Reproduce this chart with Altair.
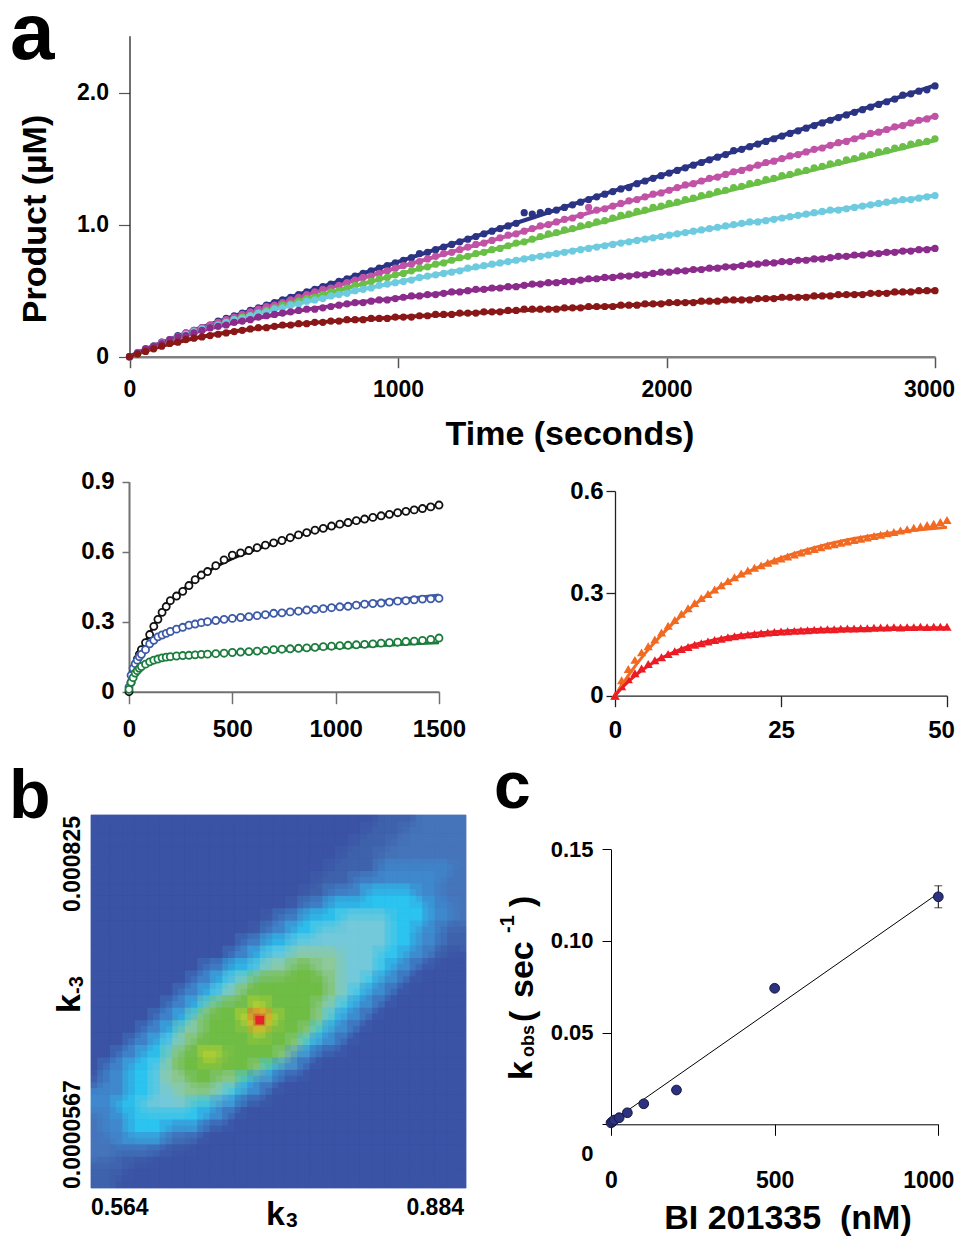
import altair as alt
import pandas as pd

W, H = 947, 1230
FONT = "Liberation Sans, Arial, Helvetica, sans-serif"

# ======================= DATA =======================
# ---- panel a (top): product (uM) vs time (s) ----
a_names = ["s1", "s2", "s3", "s4", "s5", "s6"]
a_colors = ["#2b3384", "#c153a6", "#6abf46", "#6ecbdf", "#8b2b8c", "#8a1717"]
a_dot_t = list(range(0, 3001, 30))
a_dot_s1 = [0.00, 0.03, 0.06, 0.08, 0.11, 0.13, 0.16, 0.18, 0.20, 0.22,
            0.24, 0.27, 0.29, 0.31, 0.33, 0.35, 0.37, 0.39, 0.41, 0.43,
            0.45, 0.47, 0.49, 0.51, 0.53, 0.55, 0.57, 0.59, 0.61, 0.63,
            0.65, 0.67, 0.69, 0.71, 0.73, 0.75, 0.78, 0.79, 0.81, 0.83,
            0.85, 0.87, 0.89, 0.91, 0.93, 0.95, 0.97, 0.99, 1.01, 1.09,
            1.08, 1.09, 1.10, 1.11, 1.13, 1.15, 1.17, 1.19, 1.21, 1.23,
            1.25, 1.27, 1.28, 1.31, 1.33, 1.35, 1.37, 1.39, 1.41, 1.43,
            1.45, 1.47, 1.49, 1.51, 1.53, 1.56, 1.57, 1.59, 1.61, 1.63,
            1.65, 1.67, 1.69, 1.71, 1.73, 1.75, 1.77, 1.79, 1.81, 1.83,
            1.85, 1.87, 1.89, 1.91, 1.93, 1.95, 1.98, 1.99, 2.01, 2.02,
            2.05]
a_dot_s2 = [0.00, 0.03, 0.06, 0.08, 0.11, 0.13, 0.15, 0.18, 0.20, 0.22,
            0.24, 0.26, 0.28, 0.30, 0.32, 0.34, 0.36, 0.38, 0.39, 0.41,
            0.43, 0.45, 0.47, 0.49, 0.51, 0.52, 0.54, 0.56, 0.58, 0.60,
            0.61, 0.63, 0.65, 0.67, 0.69, 0.70, 0.72, 0.74, 0.76, 0.78,
            0.79, 0.81, 0.83, 0.85, 0.86, 0.88, 0.90, 0.92, 0.93, 0.95,
            0.97, 0.99, 1.00, 1.02, 1.04, 1.05, 1.07, 1.13, 1.11, 1.12,
            1.14, 1.16, 1.18, 1.19, 1.21, 1.23, 1.24, 1.26, 1.28, 1.30,
            1.31, 1.33, 1.35, 1.36, 1.38, 1.40, 1.41, 1.43, 1.45, 1.47,
            1.48, 1.50, 1.52, 1.53, 1.55, 1.57, 1.58, 1.60, 1.62, 1.63,
            1.65, 1.67, 1.69, 1.70, 1.72, 1.74, 1.75, 1.77, 1.79, 1.80,
            1.82]
a_dot_s3 = [0.00, 0.02, 0.05, 0.08, 0.10, 0.12, 0.14, 0.16, 0.18, 0.20,
            0.22, 0.24, 0.26, 0.28, 0.30, 0.31, 0.33, 0.35, 0.37, 0.39,
            0.40, 0.42, 0.44, 0.45, 0.47, 0.49, 0.50, 0.52, 0.54, 0.55,
            0.57, 0.59, 0.60, 0.62, 0.63, 0.65, 0.67, 0.68, 0.70, 0.71,
            0.73, 0.75, 0.76, 0.78, 0.79, 0.81, 0.82, 0.84, 0.86, 0.87,
            0.89, 0.91, 0.93, 0.94, 0.96, 0.97, 0.99, 1.00, 1.02, 1.03,
            1.05, 1.07, 1.08, 1.10, 1.11, 1.13, 1.14, 1.16, 1.17, 1.19,
            1.20, 1.22, 1.23, 1.25, 1.26, 1.28, 1.29, 1.31, 1.32, 1.34,
            1.35, 1.37, 1.38, 1.40, 1.41, 1.43, 1.44, 1.46, 1.47, 1.49,
            1.50, 1.52, 1.53, 1.55, 1.56, 1.58, 1.59, 1.61, 1.62, 1.63,
            1.65]
a_dot_s4 = [0.00, 0.03, 0.05, 0.08, 0.10, 0.13, 0.15, 0.17, 0.19, 0.21,
            0.22, 0.24, 0.26, 0.28, 0.29, 0.31, 0.33, 0.34, 0.36, 0.37,
            0.39, 0.40, 0.42, 0.43, 0.44, 0.46, 0.47, 0.48, 0.50, 0.51,
            0.52, 0.54, 0.55, 0.56, 0.57, 0.58, 0.60, 0.61, 0.62, 0.63,
            0.64, 0.65, 0.67, 0.68, 0.69, 0.70, 0.71, 0.72, 0.73, 0.74,
            0.75, 0.76, 0.77, 0.78, 0.79, 0.80, 0.81, 0.82, 0.83, 0.84,
            0.85, 0.86, 0.87, 0.88, 0.89, 0.90, 0.91, 0.92, 0.93, 0.94,
            0.95, 0.96, 0.97, 0.98, 0.99, 1.00, 1.01, 1.02, 1.02, 1.03,
            1.04, 1.05, 1.06, 1.07, 1.08, 1.09, 1.10, 1.11, 1.11, 1.12,
            1.13, 1.14, 1.15, 1.16, 1.17, 1.18, 1.19, 1.19, 1.20, 1.21,
            1.22]
a_dot_s5 = [0.00, 0.03, 0.06, 0.08, 0.10, 0.13, 0.15, 0.16, 0.18, 0.20,
            0.22, 0.23, 0.24, 0.26, 0.27, 0.28, 0.30, 0.31, 0.32, 0.33,
            0.34, 0.35, 0.36, 0.36, 0.37, 0.38, 0.39, 0.40, 0.41, 0.41,
            0.42, 0.43, 0.43, 0.44, 0.45, 0.46, 0.46, 0.47, 0.47, 0.48,
            0.49, 0.49, 0.50, 0.51, 0.51, 0.52, 0.52, 0.53, 0.53, 0.54,
            0.55, 0.55, 0.56, 0.56, 0.57, 0.57, 0.58, 0.59, 0.59, 0.60,
            0.60, 0.61, 0.61, 0.62, 0.62, 0.63, 0.64, 0.64, 0.65, 0.65,
            0.66, 0.66, 0.67, 0.67, 0.68, 0.68, 0.69, 0.70, 0.70, 0.71,
            0.71, 0.72, 0.72, 0.73, 0.73, 0.74, 0.74, 0.75, 0.76, 0.76,
            0.77, 0.77, 0.78, 0.78, 0.79, 0.79, 0.80, 0.80, 0.81, 0.81,
            0.82]
a_dot_s6 = [0.00, 0.02, 0.04, 0.06, 0.08, 0.10, 0.11, 0.13, 0.14, 0.15,
            0.16, 0.17, 0.18, 0.19, 0.20, 0.21, 0.22, 0.22, 0.23, 0.24,
            0.24, 0.25, 0.25, 0.26, 0.26, 0.27, 0.27, 0.28, 0.28, 0.28,
            0.29, 0.29, 0.29, 0.30, 0.30, 0.30, 0.31, 0.31, 0.32, 0.32,
            0.32, 0.33, 0.33, 0.33, 0.34, 0.34, 0.34, 0.35, 0.35, 0.36,
            0.36, 0.36, 0.36, 0.36, 0.37, 0.37, 0.37, 0.38, 0.38, 0.38,
            0.38, 0.39, 0.39, 0.39, 0.40, 0.40, 0.40, 0.41, 0.41, 0.41,
            0.41, 0.42, 0.42, 0.42, 0.43, 0.43, 0.43, 0.43, 0.44, 0.44,
            0.44, 0.45, 0.45, 0.45, 0.45, 0.46, 0.46, 0.46, 0.47, 0.47,
            0.47, 0.47, 0.48, 0.48, 0.48, 0.49, 0.49, 0.49, 0.50, 0.50,
            0.50]
a_fit_t = [0, 50, 100, 150, 200, 300, 400, 500, 600, 800, 1000, 1250, 1500, 1750, 2000, 2250, 2500, 2750, 3000]
a_fit_s1 = [0, .048, .091, .132, .170, .244, .314, .382, .450, .584, .718, .885, 1.052, 1.219, 1.386, 1.553, 1.720, 1.887, 2.054]
a_fit_s2 = [0, .047, .090, .130, .168, .238, .305, .369, .432, .554, .675, .822, .968, 1.112, 1.255, 1.397, 1.539, 1.679, 1.820]
a_fit_s3 = [0, .044, .084, .121, .156, .222, .284, .344, .402, .514, .623, .756, .886, 1.014, 1.141, 1.267, 1.392, 1.516, 1.639]
a_fit_s4 = [0, .046, .087, .125, .160, .224, .283, .337, .387, .480, .565, .662, .752, .837, .918, .997, 1.073, 1.147, 1.220]
a_fit_s5 = [0, .046, .088, .125, .158, .215, .263, .303, .338, .396, .444, .497, .546, .593, .639, .685, .730, .775, .820]
a_fit_s6 = [0, .037, .069, .097, .121, .162, .194, .220, .241, .275, .299, .328, .355, .379, .404, .428, .452, .477, .501]

# ---- panel a, lower left ----
ll_names = ["black", "blue", "green"]
ll_colors = ["#111111", "#3d5aa8", "#1b7c3e"]
ll_t = [0, 10, 20, 30, 40, 50, 60, 80, 100, 120, 140, 160, 180, 200, 230, 260, 290, 320, 350, 380,
        420, 460, 500, 540, 580, 620, 660, 700, 740, 780, 820, 860, 900, 940, 980, 1020, 1060, 1100,
        1140, 1180, 1220, 1260, 1300, 1340, 1380, 1420, 1460, 1500]
ll_black = [0, .04, .08, .115, .14, .16, .18, .21, .245, .28, .31, .34, .365, .39, .41, .43, .455, .48, .50, .515,
            .54, .565, .585, .595, .605, .617, .628, .638, .648, .66, .672, .682, .692, .70, .71, .718, .725, .733,
            .74, .747, .754, .76, .767, .773, .779, .785, .792, .80]
ll_blue = [.02, .07, .10, .12, .135, .15, .16, .18, .205, .22, .235, .243, .25, .258, .268, .276, .285, .29, .296, .30,
           .305, .31, .314, .318, .322, .326, .33, .336, .338, .342, .345, .35, .353, .356, .36, .364, .366, .371,
           .375, .378, .38, .384, .388, .39, .394, .397, .398, .40]
ll_green = [.01, .04, .06, .08, .09, .10, .108, .118, .128, .135, .14, .145, .148, .15, .153, .155, .156, .158, .16, .161,
            .163, .165, .168, .17, .172, .174, .177, .18, .182, .184, .186, .188, .19, .193, .195, .197, .199, .201,
            .203, .205, .208, .21, .212, .215, .217, .22, .224, .23]
ll_fit_t = [0, 25, 50, 75, 100, 150, 200, 300, 400, 500, 600, 750, 900, 1050, 1200, 1350, 1500]
ll_fit_black = [0, .08, .15, .205, .25, .325, .385, .465, .525, .57, .605, .65, .69, .72, .75, .775, .80]
ll_fit_blue = [.01, .11, .15, .18, .205, .24, .26, .285, .30, .315, .325, .34, .355, .37, .385, .40, .414]
ll_fit_green = [0, .07, .10, .12, .13, .143, .15, .157, .162, .167, .171, .178, .185, .191, .197, .204, .21]

# ---- panel a, lower right ----
lr_names = ["orange", "red"]
lr_colors = ["#f26a22", "#ec1c24"]
lr_t = list(range(0, 51))
lr_orange = [0, .045, .078, .105, .127, .145, .165, .185, .205, .222, .24, .256, .272, .286, .298, .311, .324,
             .336, .347, .358, .367, .375, .382, .39, .396, .402, .408, .414, .42, .425, .43, .435, .44, .444,
             .448, .452, .456, .46, .464, .468, .472, .476, .48, .484, .488, .492, .496, .50, .504, .509, .515]
lr_red = [0, .028, .048, .066, .08, .093, .104, .113, .122, .13, .137, .143, .149, .154, .159, .163, .167, .171,
          .174, .177, .179, .181, .183, .185, .187, .188, .189, .19, .191, .192, .193, .194, .195, .195, .196,
          .197, .197, .198, .198, .199, .2, .2, .201, .2, .201, .201, .202, .201, .202, .202, .202]
lr_fit_t = [0, 1, 2, 3, 4, 5, 6, 8, 10, 12, 14, 16, 18, 20, 25, 30, 35, 40, 45, 50]
lr_fit_orange = [0, .030, .059, .086, .111, .135, .157, .198, .235, .267, .295, .321, .343, .363, .404, .434, .457, .473, .485, .494]
lr_fit_red = [0, .022, .041, .058, .074, .087, .100, .120, .137, .150, .160, .168, .175, .180, .189, .194, .196, .198, .199, .199]

# ---- panel b: error surface (levels, row 0 = top = k-3 0.000825; col 0 = k3 0.564) ----
b_k3 = [0.564, 0.884]
b_km3 = [0.0000567, 0.000825]
b_grid = [
    "000000000000000000000001112222",
    "000000000000000000000011122222",
    "000000000000000000000111222222",
    "000000000000000000001112222222",
    "000000000000000000011113333332",
    "000000000000000000111333333322",
    "000000000000000001133344443322",
    "000000000000000013344444444332",
    "000000000000001334445555444332",
    "000000000000013344555555443311",
    "000000000000334455555555443311",
    "000000000003345566665554433100",
    "000000000334456677665554330000",
    "000000003345677777765543300000",
    "000000033456777777765433000000",
    "000000334677787777654330000000",
    "0000033467778R8777643300000000",
    "000033466777787776433000000000",
    "000334567777777764330000000000",
    "0033446778y7777633000000000000",
    "033445677777764330000000000000",
    "133445667766433000000000000000",
    "333445566654330000000000000000",
    "334455554433000000000000000000",
    "233444444330000000000000000000",
    "233444333000000000000000000000",
    "223333110000000000000000000000",
    "221110000000000000000000000000",
    "111000000000000000000000000000",
    "110000000000000000000000000000",
]

# ---- panel c: kobs vs BI 201335 ----
c_conc = [0, 5, 10, 25, 50, 100, 200, 500, 1000]
c_kobs = [0.0008, 0.0015, 0.0023, 0.0036, 0.0063, 0.0112, 0.0187, 0.0742, 0.1241]
c_err = [0, 0, 0, 0, 0, 0, 0, 0, 0.006]
c_fit_x = [0, 1000]
c_fit_y = [0.0012, 0.1260]

# ======================= STYLE =======================
hm_palette = {"0": "#3b54a4", "1": "#3f62ad", "2": "#4675bb", "3": "#4089cd", "4": "#2cc3ef",
              "5": "#73c9d9", "6": "#8ec99a", "7": "#70bd45", "8": "#e0dc26", "y": "#93c841",
              "R": "#e5232b"}


def long_df(times, series, names, colors):
    rows = []
    for name, col, vals in zip(names, colors, series):
        assert len(vals) == len(times), (name, len(vals), len(times))
        for t, v in zip(times, vals):
            rows.append({"t": t, "v": v, "s": name, "c": col})
    return pd.DataFrame(rows)


def axis(orient, offset, values, tick, pad, size, dcolor, dwidth, tcolor, twidth, fmt=None, expr=None, **kw):
    args = dict(orient=orient, offset=offset, values=values, tickSize=tick, labelPadding=pad,
                labelFontSize=size, labelFont=FONT, labelFontWeight="bold", labelColor="black",
                domainColor=dcolor, domainWidth=dwidth, tickColor=tcolor, tickWidth=twidth,
                grid=False, title=None, labelOverlap=False, labelFlush=False, labelBound=False)
    if fmt:
        args["format"] = fmt
    if expr:
        args["labelExpr"] = expr
    args.update(kw)
    return alt.Axis(**args)


def shift_last(v, px):
    return {"condition": {"test": "datum.value == %s" % v, "value": px}, "value": 0}


EXPR1 = "datum.value == 0 ? '0' : format(datum.value, '.1f')"
EXPR2 = "datum.value == 0 ? '0' : format(datum.value, '.2f')"

# ---------- panel a (top) ----------
dfa_dots = long_df(a_dot_t, [a_dot_s1, a_dot_s2, a_dot_s3, a_dot_s4, a_dot_s5, a_dot_s6], a_names, a_colors)
dfa_fit = long_df(a_fit_t, [a_fit_s1, a_fit_s2, a_fit_s3, a_fit_s4, a_fit_s5, a_fit_s6], a_names, a_colors)
xa = alt.X("t:Q", scale=alt.Scale(domain=[0, 3000], range=[121.5, 927], nice=False, zero=False),
           axis=axis("bottom", 348.7 - H, [0, 1000, 2000, 3000], 11, 11, 23, "#808080", 2.5, "#555555", 1.5,
                     fmt="d", labelOffset=shift_last(3000, -6)))
ya = alt.Y("v:Q", scale=alt.Scale(domain=[0, 2.43], range=[348.7, 27.7], nice=False, zero=False),
           axis=axis("left", -121.5, [0, 1, 2], 11, 10, 23, "#111111", 1.2, "#555555", 1.2, expr=EXPR1))
a_lines = alt.Chart(dfa_fit).mark_line(strokeWidth=4, interpolate="monotone").encode(
    x=xa, y=ya, detail="s:N", color=alt.Color("c:N", scale=None))
a_pts = alt.Chart(dfa_dots).mark_circle(size=52, opacity=1).encode(
    x=xa, y=ya, color=alt.Color("c:N", scale=None))
panel_a = alt.layer(a_lines, a_pts)

# ---------- lower left ----------
dfll = long_df(ll_t, [ll_black, ll_blue, ll_green], ll_names, ll_colors)
dfll_fit = long_df(ll_fit_t, [ll_fit_black, ll_fit_blue, ll_fit_green], ll_names, ll_colors)
xll = alt.X("t:Q", scale=alt.Scale(domain=[0, 1500], range=[121, 431], nice=False, zero=False),
            axis=axis("bottom", 683.7 - H, [0, 500, 1000, 1500], 12, 14, 24, "#707070", 2, "#707070", 1.5, fmt="d"))
yll = alt.Y("v:Q", scale=alt.Scale(domain=[0, 0.9], range=[683.7, 473.7], nice=False, zero=False),
            axis=axis("left", -121, [0, 0.3, 0.6, 0.9], 7, 8, 24, "#707070", 2, "#707070", 1.5, expr=EXPR1))
ll_lines = alt.Chart(dfll_fit).mark_line(strokeWidth=3, interpolate="monotone").encode(
    x=xll, y=yll, detail="s:N", color=alt.Color("c:N", scale=None))
ll_pts = alt.Chart(dfll).mark_point(shape="circle", size=50, fill="white", fillOpacity=1, opacity=1,
                                    strokeWidth=1.8).encode(
    x=xll, y=yll, stroke=alt.Stroke("c:N", scale=None))
panel_ll = alt.layer(ll_lines, ll_pts)

# ---------- lower right ----------
dflr = long_df(lr_t, [lr_orange, lr_red], lr_names, lr_colors)
dflr_fit = long_df(lr_fit_t, [lr_fit_orange, lr_fit_red], lr_names, lr_colors)
xlr = alt.X("t:Q", scale=alt.Scale(domain=[0, 50], range=[607, 939], nice=False, zero=False),
            axis=axis("bottom", 687.7 - H, [0, 25, 50], 11, 12, 24, "#222222", 1.3, "#222222", 1.3,
                      fmt="d", labelOffset=shift_last(50, -6)))
ylr = alt.Y("v:Q", scale=alt.Scale(domain=[0, 0.6], range=[687.7, 483], nice=False, zero=False),
            axis=axis("left", -607, [0, 0.3, 0.6], 9, 3, 24, "#222222", 1.3, "#222222", 1.3, expr=EXPR1))
lr_pts = alt.Chart(dflr).mark_point(shape="triangle-up", size=85, filled=True, opacity=1).encode(
    x=xlr, y=ylr, color=alt.Color("c:N", scale=None))
lr_lines = alt.Chart(dflr_fit).mark_line(strokeWidth=3, interpolate="monotone").encode(
    x=xlr, y=ylr, detail="s:N", color=alt.Color("c:N", scale=None))
panel_lr = alt.layer(lr_pts, lr_lines)

# ---------- panel b heatmap ----------
nr, nc = len(b_grid), len(b_grid[0])
dk3 = (b_k3[1] - b_k3[0]) / nc
dkm3 = (b_km3[1] - b_km3[0]) / nr
hm_rows = []
for r, row in enumerate(b_grid):
    assert len(row) == nc, (r, len(row))
    for c, ch in enumerate(row):
        x0 = b_k3[0] + c * dk3
        x1 = x0 + dk3
        y0 = b_km3[1] - r * dkm3
        y1 = y0 - dkm3
        hm_rows.append({"k3": x0, "k3b": x1, "km3": y0, "km3b": y1,
                        # softened footprint (half a cell wider on each side, kept inside the map)
                        "sx0": max(b_k3[0], x0 - dk3 / 2), "sx1": min(b_k3[1], x1 + dk3 / 2),
                        "sy0": min(b_km3[1], y0 + dkm3 / 2), "sy1": max(b_km3[0], y1 - dkm3 / 2),
                        # peak core footprint (inner part of the cell)
                        "cx0": x0 + dk3 * 0.15, "cx1": x1 - dk3 * 0.15,
                        "cy0": y0 - dkm3 * 0.15, "cy1": y1 + dkm3 * 0.15,
                        "lvl": ch, "col": hm_palette[ch]})
dfhm = pd.DataFrame(hm_rows)
hx = alt.Scale(domain=b_k3, range=[83, 458], nice=False, zero=False)
hy = alt.Scale(domain=b_km3, range=[1180, 807], nice=False, zero=False)
hm_base = alt.Chart(dfhm).mark_rect(strokeWidth=0.8).encode(
    x=alt.X("k3:Q", scale=hx, axis=None), x2="k3b:Q",
    y=alt.Y("km3:Q", scale=hy, axis=None), y2="km3b:Q",
    fill=alt.Fill("col:N", scale=None), stroke=alt.Stroke("col:N", scale=None))
hm_soft = alt.Chart(dfhm).mark_rect(opacity=0.3, strokeWidth=0).encode(
    x=alt.X("sx0:Q", scale=hx, axis=None), x2="sx1:Q",
    y=alt.Y("sy0:Q", scale=hy, axis=None), y2="sy1:Q",
    fill=alt.Fill("col:N", scale=None))
hm_peak = alt.Chart(dfhm[dfhm["lvl"] == "R"]).mark_rect(opacity=1, strokeWidth=0).encode(
    x=alt.X("cx0:Q", scale=hx, axis=None), x2="cx1:Q",
    y=alt.Y("cy0:Q", scale=hy, axis=None), y2="cy1:Q",
    fill=alt.Fill("col:N", scale=None))
panel_b = alt.layer(hm_base, hm_soft, hm_peak)

# ---------- panel c ----------
dfc = pd.DataFrame({"x": c_conc, "y": c_kobs, "lo": [a - b for a, b in zip(c_kobs, c_err)],
                    "hi": [a + b for a, b in zip(c_kobs, c_err)], "e": c_err})
dfc_err = dfc[dfc["e"] > 0]
dfc_cap = pd.concat([dfc_err[["x", "lo"]].rename(columns={"lo": "y"}),
                     dfc_err[["x", "hi"]].rename(columns={"hi": "y"})])
dfc_fit = pd.DataFrame({"x": c_fit_x, "y": c_fit_y})
xc = alt.X("x:Q", scale=alt.Scale(domain=[0, 1000], range=[603, 930.3], nice=False, zero=False),
           axis=axis("bottom", 1116.3 - H, [0, 500, 1000], 11, 34, 23, "black", 1, "black", 1,
                     fmt="d", labelOffset=shift_last(1000, -10)))
yc = alt.Y("y:Q", scale=alt.Scale(domain=[0, 0.15], range=[1116.3, 841.3], nice=False, zero=False),
           axis=axis("left", -603, [0, 0.05, 0.10, 0.15], 9, 9, 22, "black", 1, "black", 1, expr=EXPR2,
                     labelOffset=shift_last(0, 29)))
c_fit = alt.Chart(dfc_fit).mark_line(color="black", strokeWidth=1).encode(x=xc, y=yc)
c_rule = alt.Chart(dfc_err).mark_rule(color="black", strokeWidth=1).encode(x=xc, y=alt.Y("lo:Q"), y2="hi:Q")
c_caps = alt.Chart(dfc_cap).mark_tick(orient="horizontal", size=8, thickness=1, color="black").encode(x=xc, y=yc)
c_pts = alt.Chart(dfc).mark_point(shape="circle", size=95, filled=True, fill="#2c3180", stroke="#15183d",
                                   strokeWidth=1, opacity=1).encode(x=xc, y=yc)
panel_c = alt.layer(c_fit, c_rule, c_caps, c_pts)

# ---------- texts ----------
dummy = pd.DataFrame({"d": [0]})


def txt(s, x, y, size, angle=0, align="center", baseline="alphabetic"):
    return alt.Chart(dummy).mark_text(text=s, fontSize=size, font=FONT, fontWeight="bold", angle=angle,
                                      align=align, baseline=baseline, color="black").encode(
        x=alt.value(x), y=alt.value(y))


texts = [
    txt("a", 2, 51, 80, align="left"),
    txt("Product (µM)", 38, 211, 34, angle=270),
    txt("Time (seconds)", 562, 437, 34),
    txt("b", 1, 810, 68, align="left"),
    txt("c", 486, 800, 66, align="left"),
    txt("0.564", 83, 1207, 23, align="left"),
    txt("0.884", 456, 1207, 23, align="right"),
    txt("k", 258, 1217, 34, align="left"),
    txt("3", 278, 1219, 21, align="left"),
    txt("0.000825", 72, 808, 23, angle=270, align="right"),
    txt("0.0000567", 72, 1181, 23, angle=270, align="left"),
    txt("k", 72, 1005, 34, angle=270, align="left"),
    txt("-3", 75, 986, 20, angle=270, align="left"),
    txt("BI 201335\u00a0 (nM)", 780, 1221, 34),
    txt("k", 524, 1072, 34, angle=270, align="left"),
    txt("obs", 526, 1049, 18, angle=270, align="left"),
    txt("(", 525, 1014, 34, angle=270, align="left"),
    txt("sec", 525, 990, 34, angle=270, align="left"),
    txt("-1", 506, 925, 20, angle=270, align="left"),
    txt(")", 525, 899, 34, angle=270, align="left"),
]

chart = alt.layer(panel_b, panel_a, panel_ll, panel_lr, panel_c, *texts).resolve_scale(
    x="independent", y="independent").resolve_axis(x="independent", y="independent").properties(
    width=W, height=H, autosize=alt.AutoSizeParams(type="none"), padding=0).configure_view(stroke=None)

chart.save("out.html", embed_options={"renderer": "svg", "actions": False})
